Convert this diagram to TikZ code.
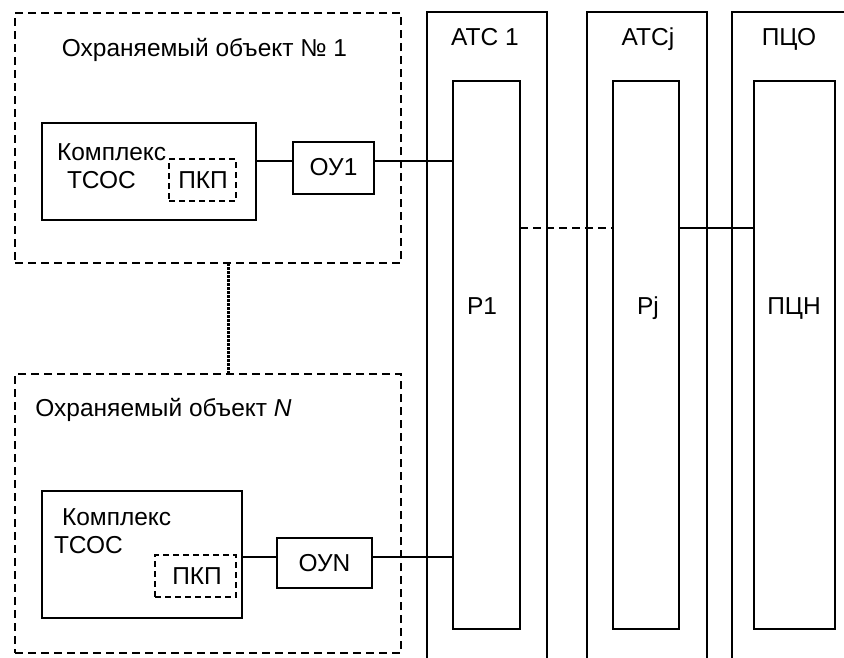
\documentclass[tikz,border=0pt]{standalone}
\usepackage{fontspec}
\setmainfont{Liberation Sans}
\begin{document}
\begin{tikzpicture}[x=1pt,y=-1pt,
  every node/.style={inner sep=0pt, outer sep=0pt},
  blk/.style={draw, line width=2pt, rectangle},
  obj/.style={draw, line width=1.8pt, dash pattern=on 8pt off 5pt, rectangle},
  pkp/.style={draw, line width=1.8pt, dash pattern=on 6pt off 4pt, rectangle},
  col/.style={draw, line width=2pt, rectangle},
  txt/.style={font=\fontsize{24.5}{27}\selectfont, anchor=center, text height=17.5pt, text depth=0pt},
  lnk/.style={line width=1.8pt}
]
\useasboundingbox (0,0) rectangle (844,657);
% objects
\node[obj, minimum width=386pt, minimum height=250pt] (box1) at (208,138) {};
\node[obj, minimum width=386pt, minimum height=279pt] (boxN) at (208,513.5) {};
\node[txt] (t1) at (204.5,48) {Охраняемый объект № 1};
\node[txt] (tN) at (163.5,408) {Охраняемый объект \textit{N}};
% complex 1
\node[blk, minimum width=214pt, minimum height=97pt] (c1) at (149,171.5) {};
\node[txt, anchor=west] (k1) at (57,152) {Комплекс};
\node[txt, anchor=west] (s1) at (67,180) {ТСОС};
\node[pkp, minimum width=67pt, minimum height=42pt] (p1) at (202.5,180) {};
\node[txt] (p1t) at (203,180) {ПКП};
\node[blk, minimum width=81pt, minimum height=52pt] (ou1) at (333.5,168) {};
\node[txt] (ou1t) at (333.5,167) {ОУ1};
% complex N
\node[blk, minimum width=200pt, minimum height=127pt] (cN) at (142,554.5) {};
\node[txt, anchor=west] (kN) at (62,517) {Комплекс};
\node[txt, anchor=west] (sN) at (54,545) {ТСОС};
\node[pkp, minimum width=81pt, minimum height=42pt] (pN) at (195.5,576) {};
\node[txt] (pNt) at (197,576) {ПКП};
\node[blk, minimum width=95pt, minimum height=50pt] (ouN) at (324.5,563) {};
\node[txt] (ouNt) at (324.5,563) {ОУN};
% columns
\node[col, minimum width=120pt, minimum height=660pt] (atc1) at (487,342) {};
\node[col, minimum width=120pt, minimum height=660pt] (atcj) at (647,342) {};
\node[col, minimum width=120pt, minimum height=660pt] (pco) at (792,342) {};
\node[txt] (atc1t) at (485,37) {АТС 1};
\node[txt] (atcjt) at (648,37) {АТСj};
\node[txt] (pcot) at (789,37) {ПЦО};
\node[blk, minimum width=67pt, minimum height=548pt] (r1) at (486.5,355) {};
\node[blk, minimum width=66pt, minimum height=548pt] (rj) at (646,355) {};
\node[blk, minimum width=81pt, minimum height=548pt] (pcn) at (794.5,355) {};
\node[txt] (r1t) at (482,306) {Р1};
\node[txt] (rjt) at (648,306) {Рj};
\node[txt] (pcnt) at (794,306) {ПЦН};
% connectors
\draw[lnk] ([yshift=10.5pt]c1.east) -- ([yshift=7pt]ou1.west);
\draw[lnk] ([yshift=7pt]ou1.east) -- ([yshift=7pt]ou1.east -| r1.west);
\draw[lnk] ([yshift=-2.5pt]cN.east) -- ([yshift=6pt]ouN.west);
\draw[lnk] ([yshift=6pt]ouN.east) -- ([yshift=6pt]ouN.east -| r1.west);
\draw[lnk, dash pattern=on 8pt off 5pt] ([yshift=127pt]r1.east) -- ([yshift=127pt]rj.west);
\draw[lnk] ([yshift=127pt]rj.east) -- ([yshift=127pt]pcn.west);
\draw[line width=3pt, dash pattern=on 2.5pt off 1.5pt] (box1.south -| 228,0) -- (boxN.north -| 228,0);
\end{tikzpicture}
\end{document}
